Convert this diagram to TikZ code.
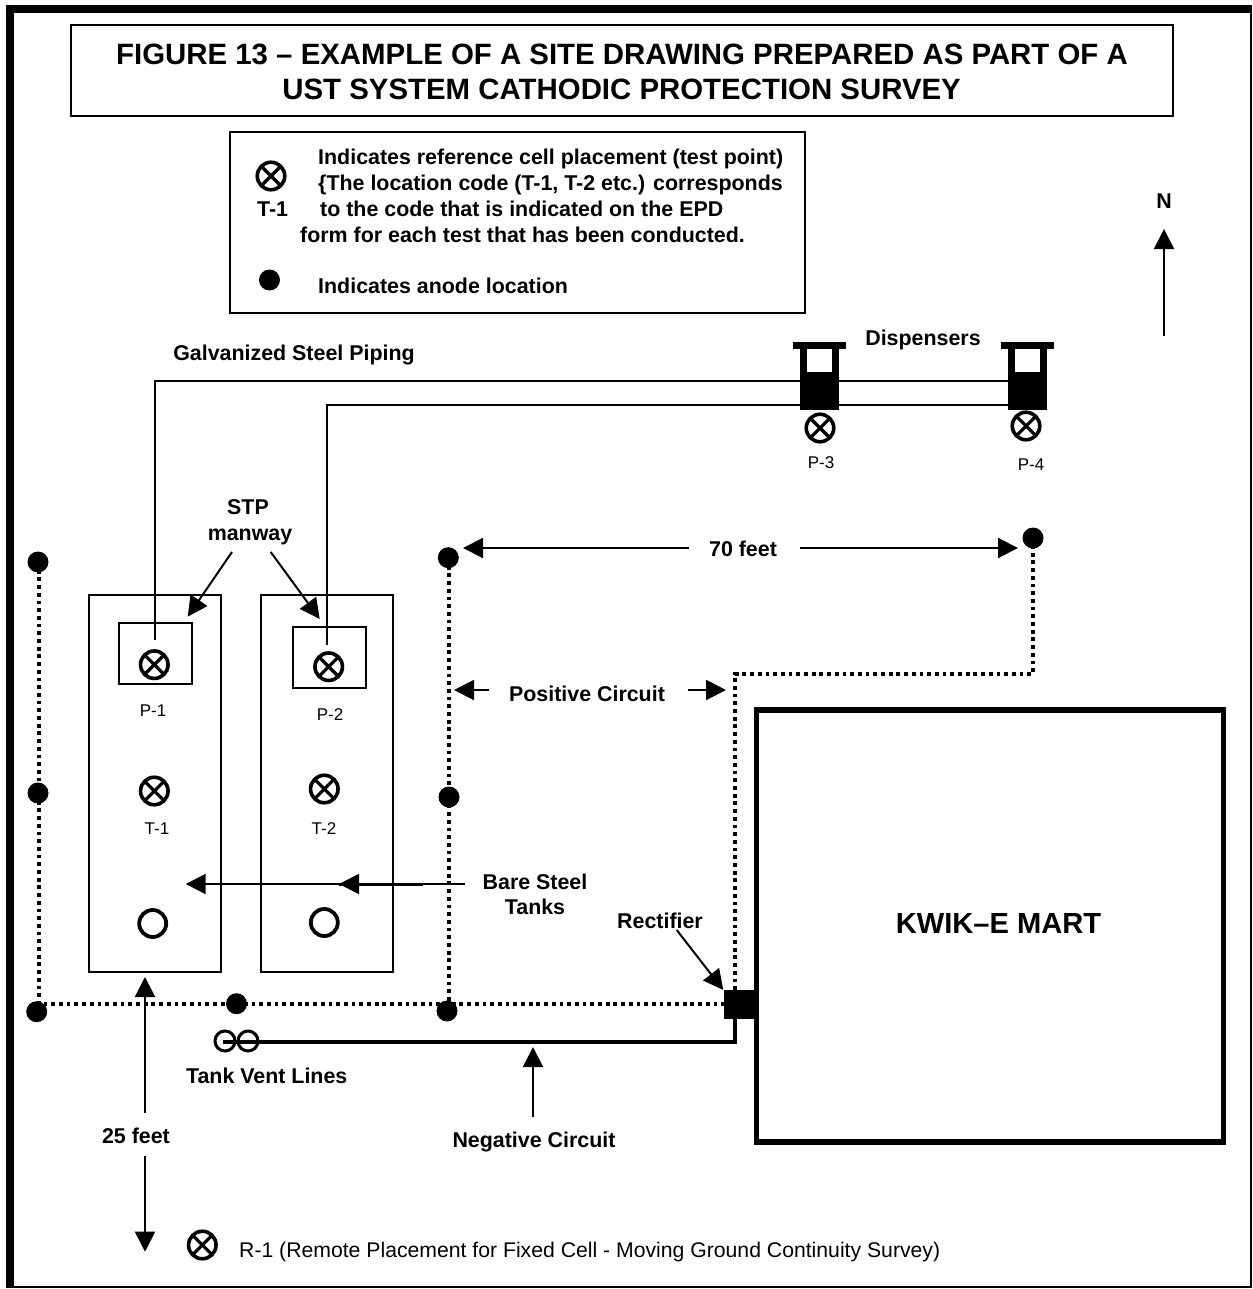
\documentclass[tikz,border=0pt]{standalone}
\usepackage{fontspec}
\setmainfont{Liberation Sans}
\usetikzlibrary{arrows.meta}
\tikzset{
  bx/.style={draw=black,line width=2pt,fill=white,inner sep=0pt,outer sep=0pt,rectangle},
  solidbx/.style={fill=black,inner sep=0pt,outer sep=0pt,rectangle},
  cell/.style={circle,draw=black,line width=3.6pt,fill=white,minimum size=27.5pt,inner sep=0pt,outer sep=0pt,
    path picture={\draw[line width=3.2pt] (path picture bounding box.north west)--(path picture bounding box.south east)
      (path picture bounding box.north east)--(path picture bounding box.south west);}},
  anode/.style={circle,fill=black,minimum size=21pt,inner sep=0pt,outer sep=0pt},
  opencirc/.style={circle,draw=black,line width=3.8pt,minimum size=27pt,inner sep=0pt,outer sep=0pt},
  vent/.style={circle,draw=black,line width=3pt,minimum size=20pt,inner sep=0pt,outer sep=0pt},
  lb/.style={font=\fontsize{21.4}{23}\selectfont\bfseries,inner sep=0pt},
  ttl/.style={font=\fontsize{29.4}{32}\selectfont\bfseries,inner sep=0pt},
  sm/.style={font=\fontsize{17}{18}\selectfont,inner sep=0pt},
  thin line/.style={line width=2pt},
  arr/.style={line width=2pt,-{Triangle[length=20pt,width=20pt]}},
  dots/.style={line width=4pt,dash pattern=on 3.8pt off 3.9pt},
}
\begin{document}
\begin{tikzpicture}[x=1pt,y=-1pt]
\useasboundingbox (0,0) rectangle (1252,1289);
\fill[white] (0,0) rectangle (1252,1289);
% outer frame
\fill[black] (6,5) rectangle (14,1288);
\fill[black] (6,5) rectangle (1251,13);
\fill[black] (6,1286) rectangle (1251,1288);
\fill[black] (1250,5) rectangle (1251.5,1288);
% title
\node[bx,minimum width=1102pt,minimum height=91pt] (title) at (621.6,70.5) {};
\node[ttl] (title1) at (622,54) {FIGURE 13 – EXAMPLE OF A SITE DRAWING PREPARED AS PART OF A};
\node[ttl] (title2) at (621.6,89) {UST SYSTEM CATHODIC PROTECTION SURVEY};
% legend
\node[bx,minimum width=574.5pt,minimum height=181pt] (legend) at (517.7,222.5) {};
\node[cell] (legcell) at (271,176) {};
\node[anode] (legan) at (269.5,280) {};
\node[lb,anchor=west] (l1) at (318,158.5) {Indicates reference cell placement (test point)};
\node[lb,anchor=west] (l2) at (318,184.5) {\{The location code (T-1, T-2 etc.) corresponds};
\node[lb,anchor=west] (l3a) at (257,209) {T-1};
\node[lb,anchor=west] (l3) at (320,209) {to the code that is indicated on the EPD};
\node[lb,anchor=west] (l4) at (300,234.5) {form for each test that has been conducted.};
\node[lb,anchor=west] (l5) at (318,285.5) {Indicates anode location};
% north
\node[lb] (north) at (1164,201) {N};
\coordinate (ntail) at (1164,336);
\coordinate (ntip) at (1164,229);
\draw[arr] (ntail) -- (ntip);
% tanks
\node[bx,minimum width=132.6pt,minimum height=377pt,fill=none] (tank1) at (155,783.5) {};
\node[bx,minimum width=132.3pt,minimum height=377pt,fill=none] (tank2) at (327.2,783.5) {};
\node[bx,minimum width=73pt,minimum height=61pt,fill=none] (man1) at (155.2,653.8) {};
\node[bx,minimum width=73pt,minimum height=60.4pt,fill=none] (man2) at (329.2,657.5) {};
% piping
\coordinate (pipeAend) at (155,640);
\coordinate (pipeBend) at (327,645);
\coordinate (pipeAcorner) at (155,381);
\coordinate (pipeBcorner) at (327,405);
\coordinate (pipeAfar) at (1010,381);
\coordinate (pipeBfar) at (1010,405);
\draw[thin line] (pipeAend) -- (pipeAcorner) -- (pipeAfar);
\draw[thin line] (pipeBend) -- (pipeBcorner) -- (pipeBfar);
% dispensers
\fill[black] (793,342) rectangle (846,349);
\fill[black] (1001,342) rectangle (1054,349);
\node[solidbx,minimum width=39.5pt,minimum height=61pt] (disp3) at (819.7,379.5) {};
\node[solidbx,minimum width=39.5pt,minimum height=61pt] (disp4) at (1027.7,379.5) {};
\fill[white] (807,349) rectangle (832,372);
\fill[white] (1015,349) rectangle (1040,372);
\node[lb] (disptxt) at (923,340) {Dispensers};
\node[lb] (galv) at (294,355) {Galvanized Steel Piping};
% cells
\node[cell] (c3) at (820,428) {};
\node[cell] (c4) at (1026,426) {};
\node[cell] (c1) at (154.3,664.7) {};
\node[cell] (c2) at (328.7,666.7) {};
\node[cell] (t1) at (154.3,791) {};
\node[cell] (t2) at (324.3,789) {};
\node[cell] (r1) at (202.3,1245) {};
\node[sm] (tp3) at (821,463) {P-3};
\node[sm] (tp4) at (1031,465) {P-4};
\node[sm] (tp1) at (153,711) {P-1};
\node[sm] (tp2) at (330,715) {P-2};
\node[sm] (tt1) at (157,829) {T-1};
\node[sm] (tt2) at (324,829) {T-2};
\node[opencirc] (o1) at (152.7,923.5) {};
\node[opencirc] (o2) at (324.3,922.5) {};
% STP
\node[lb] (stp) at (248,507.5) {STP};
\node[lb] (manway) at (250,536.6) {manway};
\coordinate (stpa) at (232,552);
\coordinate (stpat) at (187.7,616.7);
\coordinate (stpb) at (270.7,552);
\coordinate (stpbt) at (319.7,619);
\draw[arr] (stpa) -- (stpat);
\draw[arr] (stpb) -- (stpbt);
% positive circuit
\coordinate (lA) at (39,562);
\coordinate (lB) at (39,1004);
\coordinate (mA) at (449,558);
\coordinate (mB) at (449,1004);
\coordinate (rectW) at (724,1004);
\coordinate (circA) at (735,990);
\coordinate (circB) at (735,674);
\coordinate (circC) at (1033,674);
\coordinate (circD) at (1033,538);
\draw[dots] (lA) -- (lB) -- (rectW);
\draw[dots] (mA) -- (mB);
\draw[dots] (circA) -- (circB) -- (circC) -- (circD);
\node[anode] (a1) at (38,562) {};
\node[anode] (a2) at (38,793) {};
\node[anode] (a3) at (36.7,1011.7) {};
\node[anode] (a4) at (236.5,1003.7) {};
\node[anode] (a5) at (447,1011) {};
\node[anode] (a6) at (449,797) {};
\node[anode] (a7) at (448.3,557.7) {};
\node[anode] (a8) at (1033,538) {};
% dimension 70 feet
\node[lb] (ft70) at (743,549) {70 feet};
\coordinate (f70a) at (689,548);
\coordinate (f70at) at (463,548);
\coordinate (f70b) at (800,548);
\coordinate (f70bt) at (1018,548);
\draw[arr] (f70a) -- (f70at);
\draw[arr] (f70b) -- (f70bt);
% positive label
\node[lb] (pos) at (587,693.5) {Positive Circuit};
\coordinate (posa) at (489,690);
\coordinate (posat) at (454,690);
\coordinate (posb) at (688,690);
\coordinate (posbt) at (726,690);
\draw[arr] (posa) -- (posat);
\draw[arr] (posb) -- (posbt);
% mart
\node[draw=black,line width=5.5pt,minimum width=467pt,minimum height=432pt,inner sep=0pt,outer sep=0pt] (mart) at (990,926) {};
\node[inner sep=0pt,font=\fontsize{29.1}{30}\selectfont\bfseries] (marttxt) at (998.5,923) {KWIK–E MART};
% bare steel
\node[lb] (bare) at (535,882) {Bare Steel};
\node[lb] (tanks) at (535,907) {Tanks};
\coordinate (bsfar) at (465,884);
\coordinate (bsa) at (423,884);
\coordinate (bsm) at (339,884);
\coordinate (bst) at (185.7,884);
\draw[arr] (bsfar) -- (bst);
\draw[line width=3pt] (bsa) -- (bsm);
\draw[arr] (bsa) -- (bsm);
% rectifier
\node[solidbx,minimum width=32.7pt,minimum height=28.7pt] (rect) at (740.4,1004.3) {};
\node[lb] (recttxt) at (660,921) {Rectifier};
\coordinate (rcta) at (676.7,930);
\coordinate (rctt) at (723.3,990);
\draw[arr] (rcta) -- (rctt);
% negative
\node[vent] (v1) at (225,1041) {};
\node[vent] (v2) at (248,1041) {};
\coordinate (negA) at (735,1018);
\coordinate (negB) at (735,1042);
\coordinate (negC) at (225,1042);
\draw[line width=4pt,line cap=rect] (negA) -- (negB) -- (negC);
\node[lb] (vtxt) at (266.7,1075.5) {Tank Vent Lines};
\coordinate (nega) at (533,1117);
\coordinate (negt) at (533,1047);
\draw[arr] (nega) -- (negt);
\node[lb] (negtxt) at (534,1142) {Negative Circuit};
% 25 feet
\node[lb] (ft25) at (136,1136) {25 feet};
\coordinate (f25a) at (145,1112.7);
\coordinate (f25at) at (145,977);
\coordinate (f25b) at (145,1156);
\coordinate (f25bt) at (145,1251.7);
\draw[arr] (f25a) -- (f25at);
\draw[arr] (f25b) -- (f25bt);
\node[anchor=west,inner sep=0pt,font=\fontsize{21.2}{23}\selectfont] (rtxt) at (239,1252) {R-1 (Remote Placement for Fixed Cell - Moving Ground Continuity Survey)};
\end{tikzpicture}
\end{document}
